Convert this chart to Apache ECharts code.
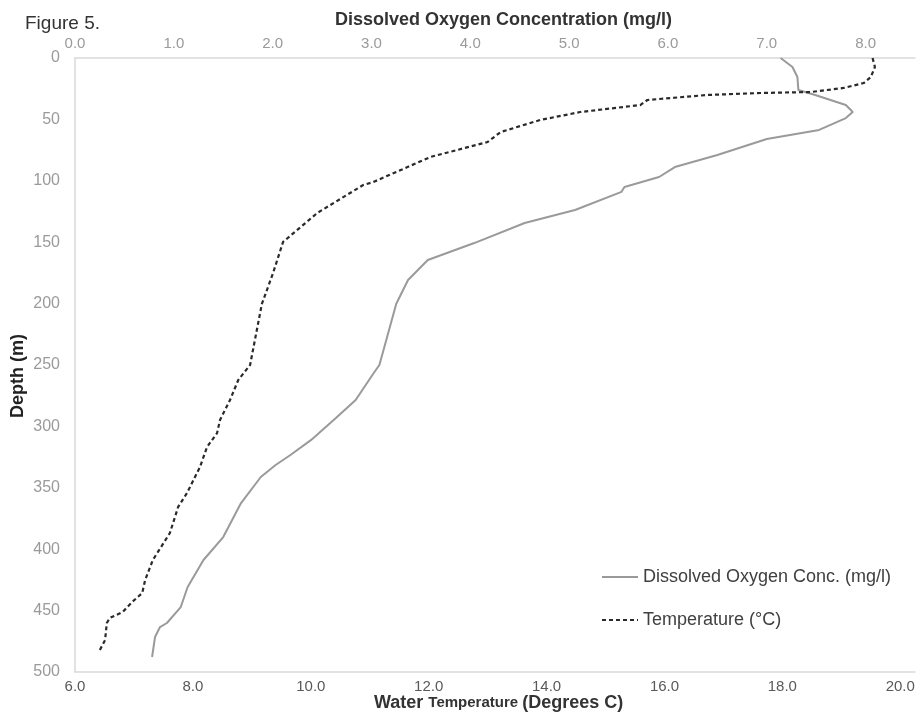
<!DOCTYPE html>
<html>
<head>
<meta charset="utf-8">
<script src="https://cdn.jsdelivr.net/npm/echarts@6/dist/echarts.min.js"></script>
<style>
html,body{margin:0;padding:0;background:#fff;}
#chart{width:918px;height:714px;}
</style>
</head>
<body>
<div id="chart"></div>
<script>
// Dissolved oxygen profile: [mg/l, depth m]
const oxygenDepth = [0, 7.3, 15.5, 26.1, 30.1, 38.3, 44.0, 48.9, 58.6, 66, 79, 88.8, 96.9, 105, 109, 123.8, 134.4, 150.7, 164.5, 172.6, 180.8, 200.3, 229.6, 250, 255.7, 278.5, 293.2, 311, 323.3, 331.4, 341.2, 362.4, 390.1, 408.8, 430.8, 447.1, 460.1, 463.4, 471.5, 487.8];
const oxygenValues = [7.14, 7.26, 7.31, 7.32, 7.49, 7.80, 7.87, 7.80, 7.53, 7.00, 6.50, 6.07, 5.91, 5.56, 5.53, 5.06, 4.55, 4.04, 3.57, 3.47, 3.37, 3.25, 3.15, 3.08, 3.03, 2.84, 2.64, 2.39, 2.18, 2.03, 1.88, 1.68, 1.50, 1.30, 1.14, 1.07, 0.93, 0.86, 0.81, 0.78];
// Temperature profile: [deg C, depth m]
const tempDepth = [0, 7.3, 15.5, 20.4, 24.4, 27.7, 28.5, 30.1, 34.2, 38.3, 44.0, 50.5, 60.3, 68.4, 80.6, 101, 103.4, 126.2, 149.8, 175.1, 200.3, 250, 262.2, 278.5, 294.8, 305.4, 316.8, 333.1, 354.2, 365.6, 386.8, 408.8, 425.1, 435.7, 443, 451.1, 456, 460.1, 474, 482.2];
const tempValues = [19.53, 19.57, 19.50, 19.38, 19.04, 18.48, 17.63, 16.73, 15.71, 15.59, 14.57, 13.89, 13.22, 13.00, 12.03, 11.06, 10.89, 10.11, 9.53, 9.36, 9.17, 8.97, 8.77, 8.63, 8.46, 8.41, 8.24, 8.12, 7.90, 7.75, 7.61, 7.32, 7.19, 7.14, 6.97, 6.81, 6.59, 6.54, 6.51, 6.42];
const depthTicks = {min: 0, max: 500, interval: 50};
const oxygenTicks = {min: 0, max: 8.5, interval: 1};
const tempTicks = {min: 6, max: 20.25, interval: 2};

const chart = echarts.init(document.getElementById('chart'));
const FONT = 'Liberation Sans';
const axisLineStyle = {show: true, onZero: false, lineStyle: {color: '#d9d9d9', width: 1.5}};

chart.setOption({
  backgroundColor: '#fff',
  animation: false,
  title: [
    {text: 'Figure 5.', left: 20, top: 9, textStyle: {fontFamily: FONT, fontSize: 19, fontWeight: 'normal', color: '#333'}},
    {text: 'Dissolved Oxygen Concentration (mg/l)', left: 330, top: 6, textStyle: {fontFamily: FONT, fontSize: 18, fontWeight: 'bold', color: '#333'}},
    {text: '{a|Water }{b|Temperature }{a|(Degrees C)}', left: 369, top: 689,
     textStyle: {rich: {a: {fontFamily: FONT, fontSize: 18, fontWeight: 'bold', color: '#333'}, b: {fontFamily: FONT, fontSize: 15, fontWeight: 'bold', color: '#333'}}}}
  ],
  graphic: [
    {type: 'text', x: 18, y: 376, rotation: Math.PI / 2,
     style: {text: 'Depth (m)', fontFamily: FONT, fontSize: 18, fontWeight: 'bold', fill: '#222', align: 'center', verticalAlign: 'middle'}}
  ],
  legend: {
    orient: 'vertical', left: 596, top: 563, itemGap: 25, itemWidth: 36, itemHeight: 20,
    itemStyle: {opacity: 0},
    textStyle: {fontFamily: FONT, fontSize: 18, color: '#404040'},
    data: ['Dissolved Oxygen Conc. (mg/l)', 'Temperature (°C)']
  },
  grid: {left: 75, right: 3, top: 58, bottom: 42, containLabel: false},
  xAxis: [
    {type: 'value', position: 'bottom', min: tempTicks.min, max: tempTicks.max, interval: tempTicks.interval,
     axisLine: axisLineStyle, axisTick: {show: false}, splitLine: {show: false},
     axisLabel: {showMaxLabel: false, formatter: v => v.toFixed(1), fontFamily: FONT, fontSize: 15, color: '#595959', margin: 7}},
    {type: 'value', position: 'top', min: oxygenTicks.min, max: oxygenTicks.max, interval: oxygenTicks.interval,
     axisLine: axisLineStyle, axisTick: {show: false}, splitLine: {show: false},
     axisLabel: {showMaxLabel: false, formatter: v => v.toFixed(1), fontFamily: FONT, fontSize: 15, color: '#9a9a9a', margin: 7}}
  ],
  yAxis: {
    type: 'value', inverse: true, min: depthTicks.min, max: depthTicks.max, interval: depthTicks.interval,
    axisLine: axisLineStyle, axisTick: {show: false}, splitLine: {show: false},
    axisLabel: {fontFamily: FONT, fontSize: 16, color: '#9a9a9a', margin: 15}
  },
  series: [
    {name: 'Dissolved Oxygen Conc. (mg/l)', type: 'line', xAxisIndex: 1, symbol: 'none',
     lineStyle: {color: '#9a9a9a', width: 2}, itemStyle: {color: '#9a9a9a'},
     data: oxygenValues.map((v, i) => [v, oxygenDepth[i]])},
    {name: 'Temperature (°C)', type: 'line', xAxisIndex: 0, symbol: 'none',
     lineStyle: {color: '#2a2a2a', width: 2.2, type: [4, 3]}, itemStyle: {color: '#2a2a2a'},
     data: tempValues.map((v, i) => [v, tempDepth[i]])}
  ]
});
</script>
</body>
</html>
